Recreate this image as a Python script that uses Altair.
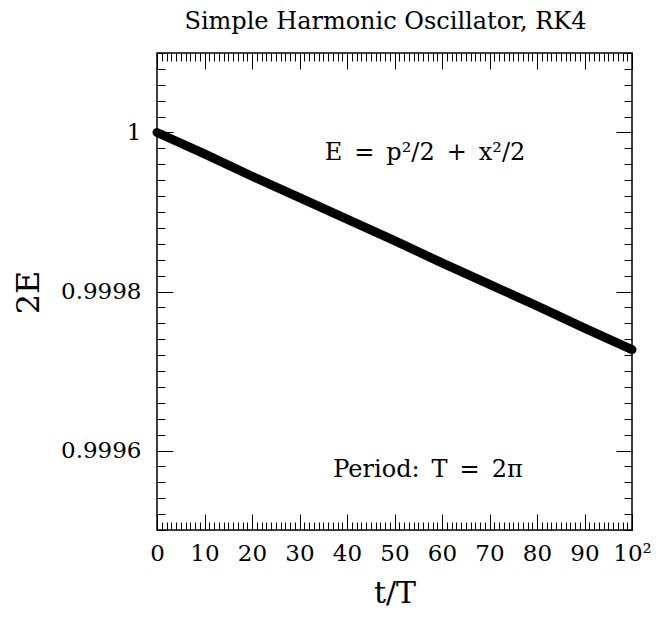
import altair as alt
import pandas as pd

# ---- data ----
t_over_T = [0, 10, 20, 30, 40, 50, 60, 70, 80, 90, 100]
two_E = [1.0, 0.999973, 0.999945, 0.999918, 0.999891, 0.999864,
         0.999836, 0.999809, 0.999782, 0.999754, 0.999727]

x_major = [0, 10, 20, 30, 40, 50, 60, 70, 80, 90, 100]
x_minor = list(range(0, 101))
y_major = [0.9996, 0.9998, 1.0]
y_minor = [round(0.9995 + 0.00002 * i, 6) for i in range(31)]
x_domain = [0, 100]
y_domain = [0.9995, 1.0001]

title_text = "Simple Harmonic Oscillator, RK4"
x_title = "t/T"
y_title = "2E"
note_energy = "E\u2002=\u2002p²/2\u2002+\u2002x²/2"
note_period = "Period:\u2002T\u2002=\u20022π"

# ---- layout / style ----
W, H = 475, 477
FONT = "DejaVu Serif"
MINOR, MAJOR = 8, 16

df = pd.DataFrame({"t": t_over_T, "E": two_E})
xs = alt.Scale(domain=x_domain, nice=False, zero=False)
ys = alt.Scale(domain=y_domain, nice=False, zero=False)


def tick_axis(orient, values, size, offset):
    return alt.Axis(orient=orient, values=values, tickSize=size, offset=offset,
                    labels=False, domain=False, grid=False, title=None,
                    tickColor="black", tickWidth=1)


def tick_layer(x_orient, y_orient, xv, yv, size):
    return alt.Chart(df).mark_point(opacity=0).encode(
        x=alt.X("t:Q", scale=xs, axis=tick_axis(x_orient, xv, size, -H)),
        y=alt.Y("E:Q", scale=ys, axis=tick_axis(y_orient, yv, size, -W)),
    )


# inward ticks on all four sides
bottom_left_minor = tick_layer("top", "right", x_minor, y_minor, MINOR)
bottom_left_major = tick_layer("top", "right", x_major, y_major, MAJOR)
top_right_minor = tick_layer("bottom", "left", x_minor, y_minor, MINOR)
top_right_major = tick_layer("bottom", "left", x_major, y_major, MAJOR)

line = alt.Chart(df).mark_line(color="black", strokeWidth=9, strokeCap="round",
                               strokeJoin="round").encode(
    x=alt.X("t:Q", scale=xs, axis=alt.Axis(
        orient="bottom", values=x_major, ticks=False, domain=False, grid=False,
        labelFont=FONT, labelFontSize=23, labelPadding=12, labelColor="black",
        labelFlush=False, labelOverlap=False,
        labelExpr="datum.value == 100 ? '10²' : format(datum.value, 'd')",
        title=x_title, titleFont=FONT, titleFontSize=30, titleFontWeight="normal",
        titleColor="black", titleX=W / 2, titleY=63, titleBaseline="middle",
        titleAlign="center")),
    y=alt.Y("E:Q", scale=ys, axis=alt.Axis(
        orient="left", values=y_major, ticks=False, domain=False, grid=False,
        labelFont=FONT, labelFontSize=23, labelPadding=16, labelColor="black",
        labelFlush=False, labelOverlap=False,
        labelExpr="datum.value == 1 ? '1' : format(datum.value, '.4f')",
        title=y_title, titleFont=FONT, titleFontSize=32, titleFontWeight="normal",
        titleColor="black", titleAngle=270, titleX=-129, titleY=239,
        titleBaseline="middle", titleAlign="center")),
)

ann_df = pd.DataFrame({"label": [note_energy]})
ann2_df = pd.DataFrame({"label": [note_period]})
ann1 = alt.Chart(ann_df).mark_text(font=FONT, fontSize=24, color="black",
                                   align="center", baseline="middle").encode(
    text="label:N", x=alt.value(268), y=alt.value(100))
ann2 = alt.Chart(ann2_df).mark_text(font=FONT, fontSize=24, color="black",
                                    align="center", baseline="middle").encode(
    text="label:N", x=alt.value(271), y=alt.value(417))

chart = alt.layer(
    bottom_left_minor, bottom_left_major, top_right_minor, top_right_major,
    line, ann1, ann2,
).resolve_axis(x="independent", y="independent").properties(
    width=W, height=H,
    title=alt.TitleParams(title_text, font=FONT, fontSize=24, fontWeight="normal",
                          color="black", offset=19, dx=-9, anchor="middle"),
    autosize=alt.AutoSizeParams(type="none"),
    padding={"left": 149, "top": 45, "right": 19, "bottom": 81},
).configure_view(stroke="black", strokeWidth=1.5)

chart.save("out.html", embed_options={"renderer": "svg", "actions": False})
